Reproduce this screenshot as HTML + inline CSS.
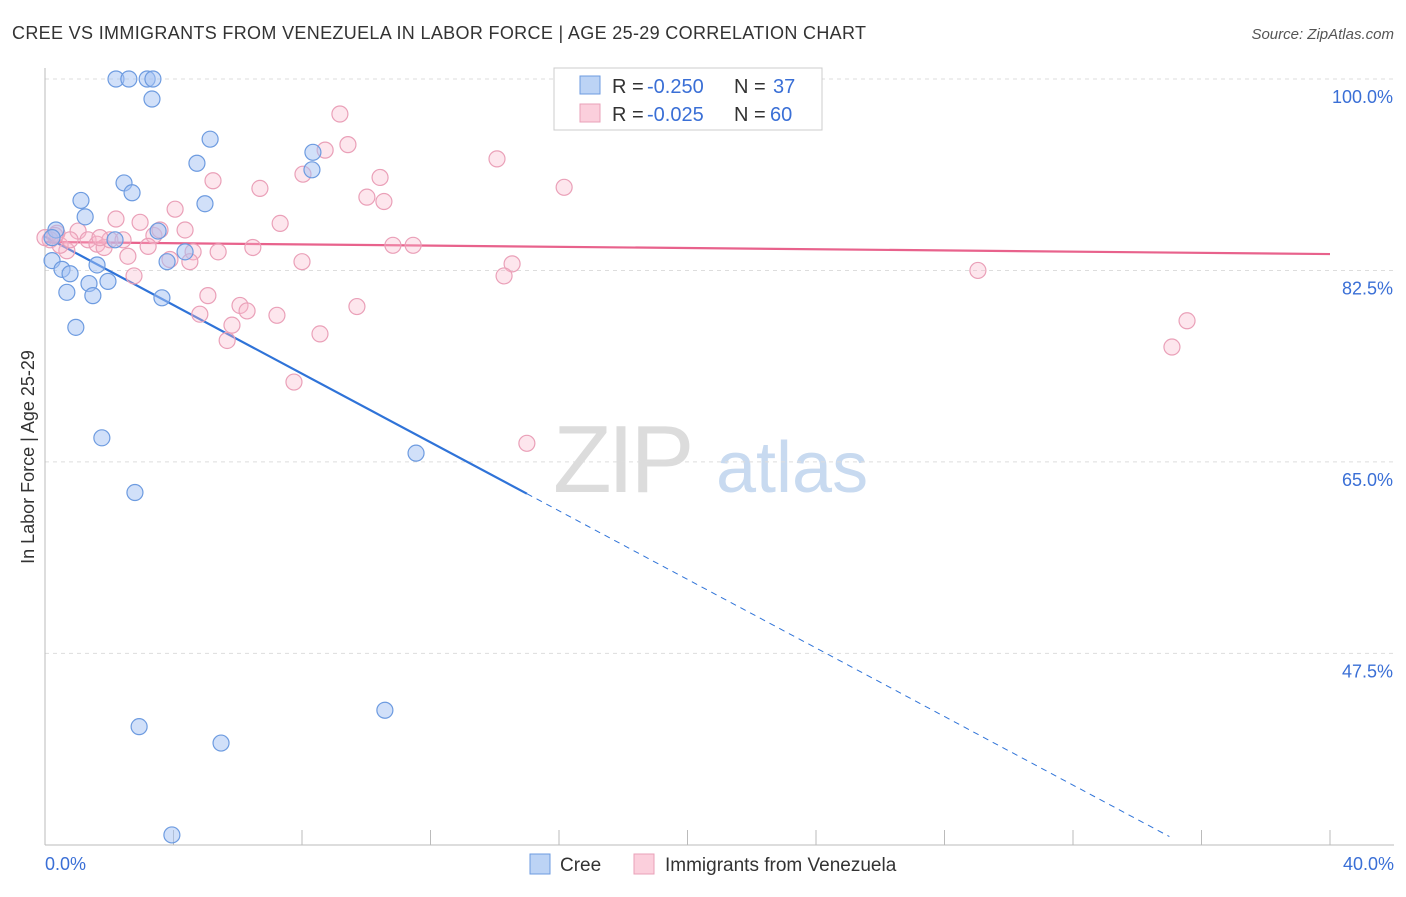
<!DOCTYPE html>
<html><head><meta charset="utf-8"><style>
body{margin:0;background:#fff;font-family:"Liberation Sans",sans-serif;}
svg text{font-family:"Liberation Sans",sans-serif;}
</style></head><body>
<svg id="chart" width="1406" height="892">
<text x="12" y="39" font-size="18" fill="#333" textLength="854" lengthAdjust="spacing">CREE VS IMMIGRANTS FROM VENEZUELA IN LABOR FORCE | AGE 25-29 CORRELATION CHART</text>
<text x="1394" y="39" font-size="15" fill="#555" text-anchor="end" font-style="italic">Source: ZipAtlas.com</text>
<g>
<text x="553" y="492" font-size="96" fill="#dcdcdc" font-family="Liberation Serif" letter-spacing="-4">ZIP</text>
<text x="716" y="492" font-size="72" fill="#c8daf0">atlas</text>
</g>
<g id="grid"></g>
<g id="axes"></g>
<g id="lines"></g>
<g id="pts"></g>
<text x="0" y="0" transform="translate(34,457) rotate(-90)" font-size="18" fill="#333" text-anchor="middle">In Labor Force | Age 25-29</text>
<g>
<rect x="554" y="68" width="268" height="62" fill="#fff" stroke="#ccc"/>
<rect x="580" y="76" width="20" height="18" fill="#bcd3f5" stroke="#6d9be0"/>
<text x="612" y="93" font-size="20" fill="#333">R =</text>
<text x="647" y="93" font-size="20" fill="#3a6fd6">-0.250</text>
<text x="734" y="93" font-size="20" fill="#333">N =</text>
<text x="773" y="93" font-size="20" fill="#3a6fd6">37</text>
<rect x="580" y="104" width="20" height="18" fill="#fbcfdc" stroke="#eaa0b8"/>
<text x="612" y="121" font-size="20" fill="#333">R =</text>
<text x="647" y="121" font-size="20" fill="#3a6fd6">-0.025</text>
<text x="734" y="121" font-size="20" fill="#333">N =</text>
<text x="770" y="121" font-size="20" fill="#3a6fd6">60</text>
</g>
<g>
<rect x="530" y="854" width="20" height="20" fill="#bcd3f5" stroke="#6d9be0"/>
<text x="560" y="871" font-size="19" fill="#333">Cree</text>
<rect x="634" y="854" width="20" height="20" fill="#fbcfdc" stroke="#eaa0b8"/>
<text x="665" y="871" font-size="19" fill="#333">Immigrants from Venezuela</text>
</g>
</svg>
<script>
const yTicks=[100,82.5,65,47.5];
const yTickLabels=["100.0%","82.5%","65.0%","47.5%"];
const xTickLabels=["0.0%","40.0%"];
const creeX=[2.21,2.61,3.18,3.36,3.33,5.14,4.73,8.34,8.31,2.46,2.71,1.12,4.98,1.25,0.34,0.22,2.18,3.52,4.36,3.80,0.22,0.53,0.78,1.62,1.37,1.96,0.68,1.49,3.64,0.96,1.77,11.55,2.80,2.93,10.58,5.48,3.95];
const creeY=[100,100,100,100,98.17,94.5,92.3,93.3,91.7,90.5,89.6,88.9,88.6,87.4,86.2,85.5,85.3,86.1,84.2,83.3,83.4,82.6,82.2,83.0,81.3,81.5,80.5,80.2,80.0,77.3,67.2,65.8,62.2,40.8,42.3,39.3,30.9];
const venX=[21.26,9.18,9.43,8.72,14.07,8.03,10.43,5.23,6.69,16.16,10.02,10.55,4.05,7.32,2.21,2.96,4.36,3.39,0.37,0.16,1.03,1.34,1.62,1.84,0.68,2.02,2.43,3.21,3.58,4.61,5.39,6.47,10.83,11.46,3.89,4.51,2.58,8.00,14.54,14.29,2.77,29.04,5.07,6.07,6.29,4.82,7.22,9.71,5.82,5.67,8.56,35.55,35.08,7.75,15.00,0.47,0,0.31,0.78,1.71];
const venY=[100,96.8,94.0,93.5,92.7,91.3,91.0,90.7,90.0,90.1,89.2,88.8,88.1,86.8,87.2,86.9,86.2,85.7,85.9,85.3,86.1,85.3,84.9,84.6,84.3,85.3,85.3,84.7,86.2,84.2,84.2,84.6,84.8,84.8,83.5,83.3,83.8,83.3,83.1,82.0,82.0,82.5,80.2,79.3,78.8,78.5,78.4,79.2,77.5,76.1,76.7,77.9,75.5,72.3,66.7,84.8,85.5,85.7,85.3,85.5];
const creeTrend=[85.6,-1.567];
const venTrend=[85.1,-0.0275];
const NS="http://www.w3.org/2000/svg";
const sx=v=>45+v*32.125, sy=v=>79+(100-v)*10.94;
function mk(p,t,a){const e=document.createElementNS(NS,t);for(const k in a)e.setAttribute(k,a[k]);document.getElementById(p).appendChild(e);return e;}
yTicks.forEach((t,i)=>{
 const l=mk('grid','line',{x1:45,x2:1394,y1:sy(t),y2:sy(t),stroke:'#ddd','stroke-dasharray':'4,4'});
 
 
 const tx=mk('grid','text',{x:1393,y:sy(t)+24,'font-size':18,fill:'#3a6fd6','text-anchor':'end'});
 tx.textContent=yTickLabels[i];
 
 
});
const ya=mk('axes','line',{x1:45,x2:45,y1:68,y2:845,stroke:'#bbb'});


const xa=mk('axes','line',{x1:45,x2:1394,y1:845,y2:845,stroke:'#bbb'});


for(let i=0;i<=10;i++){const t=mk('axes','line',{x1:sx(i*4),x2:sx(i*4),y1:830,y2:845,stroke:'#bbb'});
 
 }
[[0,'start',45],[1,'end',1394]].forEach(([i,a,x])=>{const t=mk('axes','text',{x:x,y:870,'font-size':18,fill:'#3a6fd6','text-anchor':a});t.textContent=xTickLabels[i];
 
 });
function pts(X,Y,fill,stroke,name){X.forEach((x,i)=>{const c=mk('pts','circle',{cx:sx(x),cy:sy(Y[i]),r:8,fill:fill,stroke:stroke,'stroke-width':1.2});
 
 });}
pts(venX,venY,'rgba(248,182,204,0.35)','#eaa0b8','venezuela-point');
pts(creeX,creeY,'rgba(164,194,244,0.5)','#6d9be0','cree-point');
const f=(t,x)=>t[0]+t[1]*x;
const b1=mk('lines','line',{x1:sx(0),y1:sy(f(creeTrend,0)),x2:sx(15),y2:sy(f(creeTrend,15)),stroke:'#2f73d8','stroke-width':2.2});


const b2=mk('lines','line',{x1:sx(15),y1:sy(f(creeTrend,15)),x2:sx(35),y2:sy(f(creeTrend,35)),stroke:'#2f73d8','stroke-width':1,'stroke-dasharray':'6,5'});


const p1=mk('lines','line',{x1:sx(0),y1:sy(f(venTrend,0)),x2:sx(40),y2:sy(f(venTrend,40)),stroke:'#e8628c','stroke-width':2.2});


</script>
</body></html>
